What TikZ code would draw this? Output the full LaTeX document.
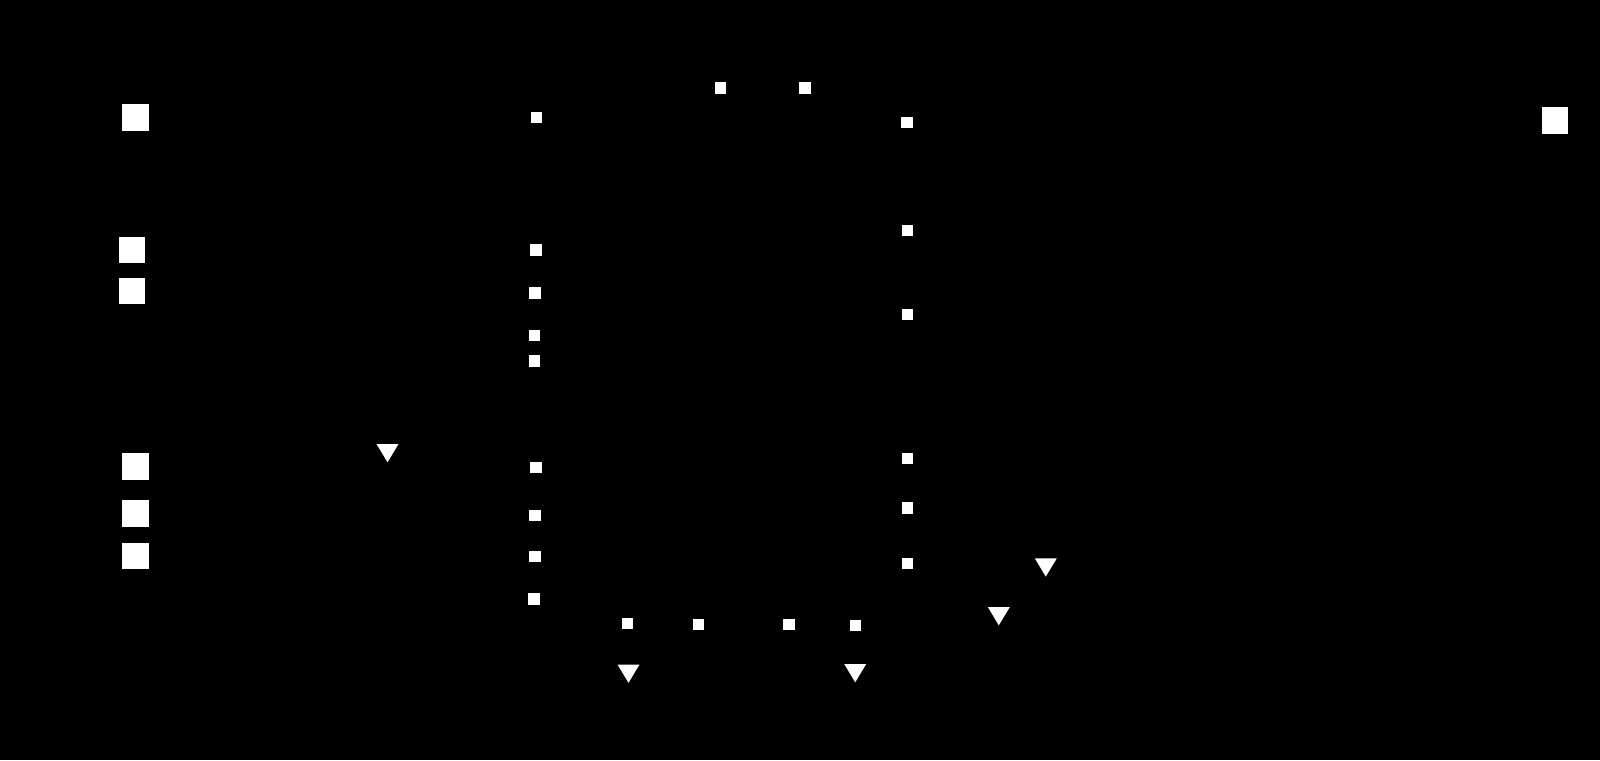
\documentclass[tikz,border=0pt]{standalone}
\begin{document}
\begin{tikzpicture}[x=0.01cm,y=-0.01cm,
  bigterm/.style={rectangle,draw=none,fill=white,minimum size=0.267cm,inner sep=0pt},
  smallterm/.style={rectangle,draw=none,fill=white,minimum width=0.113cm,minimum height=0.112cm,inner sep=0pt},
  gndtri/.style={draw=none,fill=white}]
\fill[black] (0,0) rectangle (1600,760);
\useasboundingbox (0,0) rectangle (1600,760);
% large terminals
\node[bigterm] (b1) at (135.7,117.3) {};
\node[bigterm] (b2) at (132,250) {};
\node[bigterm] (b3) at (132,291) {};
\node[bigterm] (b4) at (135.5,466.3) {};
\node[bigterm] (b5) at (135.5,513.3) {};
\node[bigterm] (b6) at (135.5,556.1) {};
\node[bigterm] (b7) at (1555,120.4) {};
% small terminals
\node[smallterm] (s1) at (536.3,117.7) {};
\node[smallterm] (s2) at (720.8,88) {};
\node[smallterm] (s3) at (805.1,88) {};
\node[smallterm] (s4) at (907.1,122.4) {};
\node[smallterm] (s5) at (535.9,250) {};
\node[smallterm] (s6) at (534.9,292.9) {};
\node[smallterm] (s7) at (534.4,335.5) {};
\node[smallterm] (s8) at (534.4,361) {};
\node[smallterm] (s9) at (535.9,467.3) {};
\node[smallterm] (s10) at (534.9,515.3) {};
\node[smallterm] (s11) at (534.9,556.1) {};
\node[smallterm] (s12) at (533.9,599) {};
\node[smallterm] (s13) at (627.8,623.5) {};
\node[smallterm] (s14) at (698.2,624.5) {};
\node[smallterm] (s15) at (789,624.5) {};
\node[smallterm] (s16) at (855.2,625.5) {};
\node[smallterm] (s17) at (907.3,230.6) {};
\node[smallterm] (s18) at (907.3,314.3) {};
\node[smallterm] (s19) at (907.3,458.5) {};
\node[smallterm] (s20) at (907.3,508) {};
\node[smallterm] (s21) at (907.3,563.5) {};
% downward triangles
\coordinate (t1) at (387.5,444);
\coordinate (t2) at (628.5,664.5);
\coordinate (t3) at (855.2,664);
\coordinate (t4) at (998.8,607);
\coordinate (t5) at (1045.8,558.3);
\foreach \t in {t1,t2,t3,t4,t5}{
  \fill[gndtri] (\t) ++(-11,0) -- ++(22,0) -- ++(-11,18.3) -- cycle;
}
\end{tikzpicture}
\end{document}
